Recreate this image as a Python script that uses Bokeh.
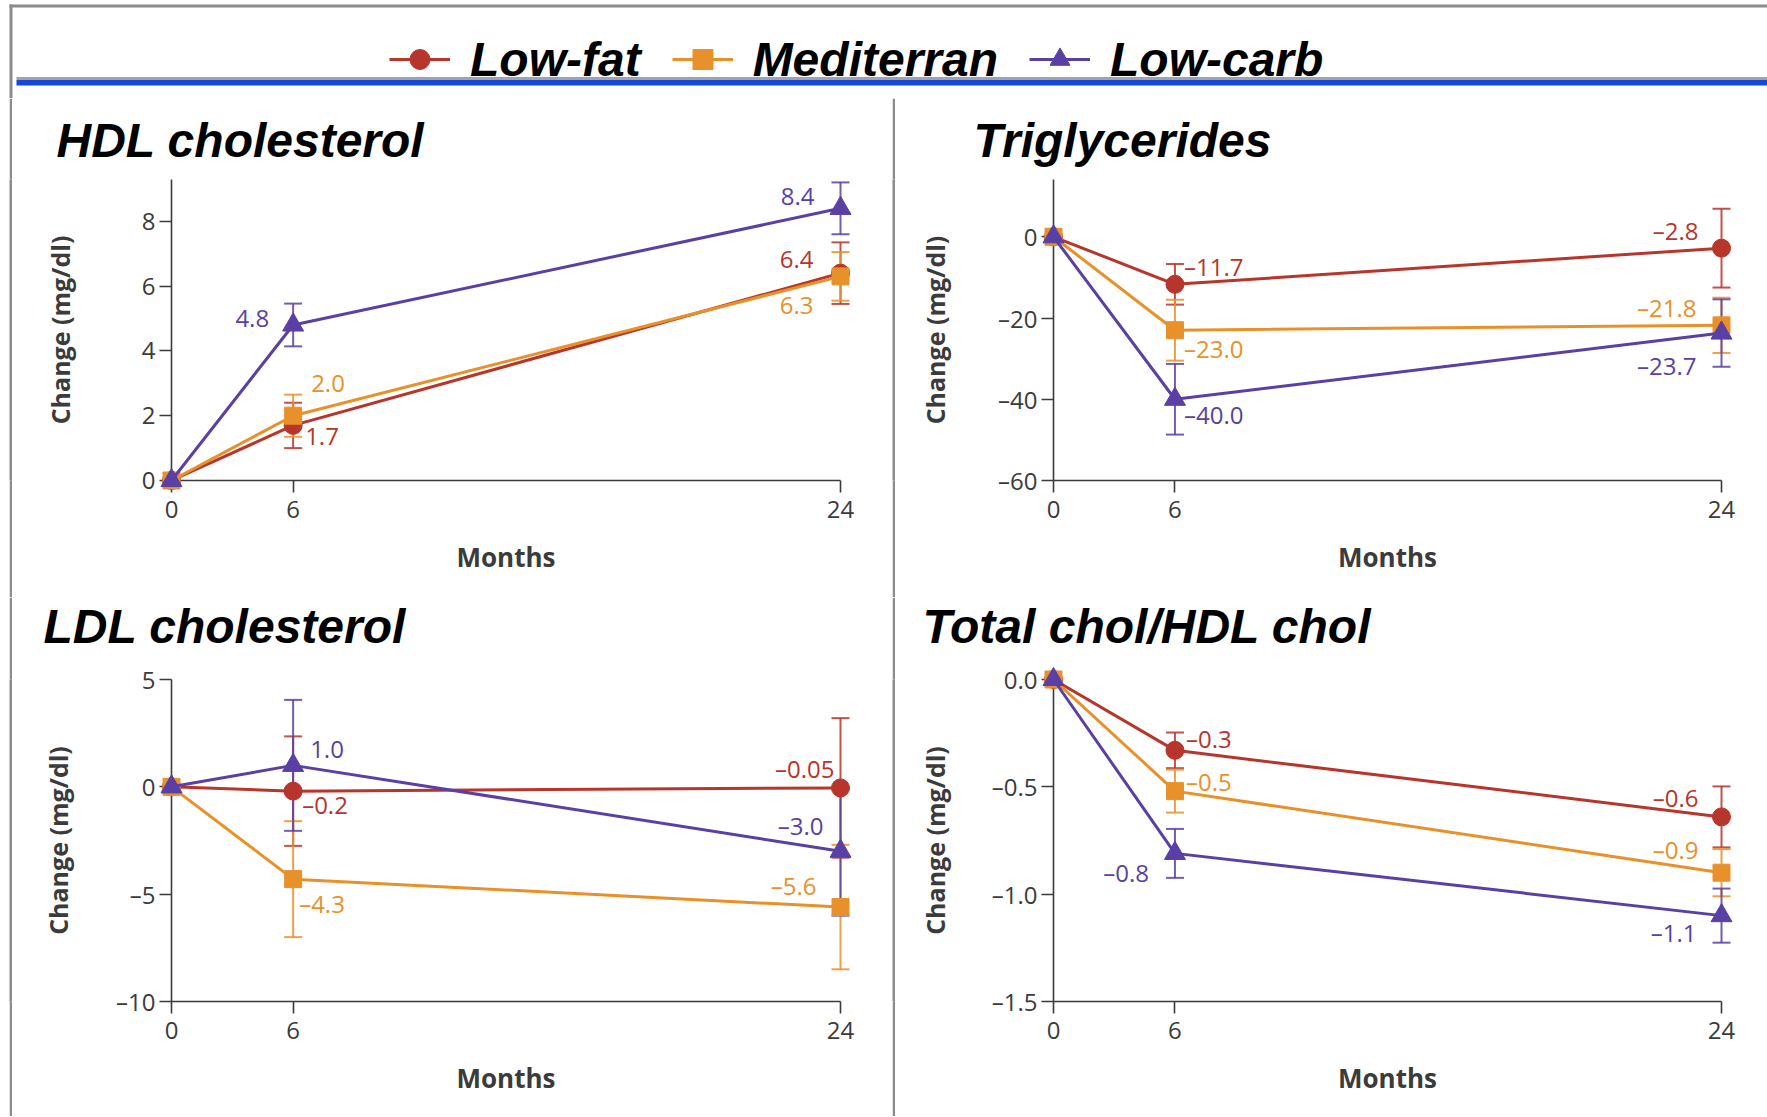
import numpy as np
from bokeh.plotting import figure
from bokeh.models import (Range1d, FixedTicker, ColumnDataSource, LabelSet, Legend,
                          LegendItem, Title)
from bokeh.layouts import row, column
from bokeh.core.properties import value
from bokeh.embed import file_html
from bokeh.resources import INLINE

# ---------------------------------------------------------------- data
MONTHS = [0, 6, 24]
MONTH_LABELS = ["0", "6", "24"]
DIETS = ["Low-fat", "Mediterran", "Low-carb"]

# HDL cholesterol (change, mg/dl)
HDL_LF = [0, 1.7, 6.4]
HDL_MED = [0, 2.0, 6.3]
HDL_LC = [0, 4.8, 8.4]
HDL_LF_SE = [0, 0.70, 0.95]
HDL_MED_SE = [0, 0.65, 0.75]
HDL_LC_SE = [0, 0.66, 0.80]
HDL_LF_TXT = ["", "1.7", "6.4"]
HDL_MED_TXT = ["", "2.0", "6.3"]
HDL_LC_TXT = ["", "4.8", "8.4"]
HDL_TICKS = [0, 2, 4, 6, 8]
HDL_TICK_LABELS = ["0", "2", "4", "6", "8"]

# Triglycerides
TG_LF = [0, -11.7, -2.8]
TG_MED = [0, -23.0, -21.8]
TG_LC = [0, -40.0, -23.7]
TG_LF_SE = [0, 5.0, 9.7]
TG_MED_SE = [0, 7.5, 6.8]
TG_LC_SE = [0, 8.7, 8.3]
TG_LF_TXT = ["", "\u201311.7", "\u20132.8"]
TG_MED_TXT = ["", "\u201323.0", "\u201321.8"]
TG_LC_TXT = ["", "\u201340.0", "\u201323.7"]
TG_TICKS = [0, -20, -40, -60]
TG_TICK_LABELS = ["0", "\u201320", "\u201340", "\u201360"]

# LDL cholesterol
LDL_LF = [0, -0.2, -0.05]
LDL_MED = [0, -4.3, -5.6]
LDL_LC = [0, 1.0, -3.0]
LDL_LF_SE = [0, 2.55, 3.25]
LDL_MED_SE = [0, 2.7, 2.9]
LDL_LC_SE = [0, 3.05, 3.0]
LDL_LF_TXT = ["", "\u20130.2", "\u20130.05"]
LDL_MED_TXT = ["", "\u20134.3", "\u20135.6"]
LDL_LC_TXT = ["", "1.0", "\u20133.0"]
LDL_TICKS = [5, 0, -5, -10]
LDL_TICK_LABELS = ["5", "0", "\u20135", "\u201310"]

# Total cholesterol / HDL cholesterol
TC_LF = [0, -0.33, -0.64]
TC_MED = [0, -0.52, -0.90]
TC_LC = [0, -0.81, -1.10]
TC_LF_SE = [0, 0.083, 0.142]
TC_MED_SE = [0, 0.10, 0.11]
TC_LC_SE = [0, 0.114, 0.126]
TC_LF_TXT = ["", "\u20130.3", "\u20130.6"]
TC_MED_TXT = ["", "\u20130.5", "\u20130.9"]
TC_LC_TXT = ["", "\u20130.8", "\u20131.1"]
TC_TICKS = [0.0, -0.5, -1.0, -1.5]
TC_TICK_LABELS = ["0.0", "\u20130.5", "\u20131.0", "\u20131.5"]

# ---------------------------------------------------------------- styles / layout
COLORS = {"Low-fat": "#b7352b", "Mediterran": "#e8912a", "Low-carb": "#5a3fa5"}
MARKERS = {"Low-fat": ("circle", 18), "Mediterran": ("square", 17), "Low-carb": ("triangle", 21)}
GRAY = "#8c8c8c"
INK = "#3b3b3b"
TICK_FONT = "Open Sans"
NUM_SIZE = "24px"
TITLE_FONT = dict(text_font="Liberation Sans", text_font_size="48px",
                  text_font_style="bold italic", text_color="black")

# value-label offsets (px) for months 6 and 24: (dx, dy-up, align)
HDL_OFF = {"Low-fat": [(12, -11, "left"), (-27, 14, "right")],
           "Mediterran": [(18, 32, "left"), (-27, -29, "right")],
           "Low-carb": [(-24, 6, "right"), (-26, 12, "right")]}
TG_OFF = {"Low-fat": [(9, 18, "left"), (-23, 18, "right")],
          "Mediterran": [(9, -18, "left"), (-25, 18, "right")],
          "Low-carb": [(9, -15, "left"), (-25, -32, "right")]}
LDL_OFF = {"Low-fat": [(9, -13, "left"), (-6, 19, "right")],
           "Mediterran": [(6, -24, "left"), (-24, 22, "right")],
           "Low-carb": [(17, 16, "left"), (-17, 26, "right")]}
TC_OFF = {"Low-fat": [(11, 12, "left"), (-23, 19, "right")],
          "Mediterran": [(11, 10, "left"), (-23, 23, "right")],
          "Low-carb": [(-26, -19, "right"), (-25, -17, "right")]}


def xpos(m):
    # the source figure's month axis is not linear: 6->24 is stretched by 1.5
    m = np.asarray(m, dtype=float)
    return np.where(m <= 6, m, 6 + (m - 6) * 1.5)


XS = xpos(MONTHS)
X_END = float(XS[-1])


def build_panel(width, height, borders, yr, yticks, yticklabels, series, offsets,
                ylab_standoff, title, title_offset, title_standoff, title_gap=0):
    left, right, top, bottom = borders
    p = figure(width=width, height=height, x_range=Range1d(0, X_END),
               y_range=Range1d(*yr), toolbar_location=None, output_backend="svg",
               min_border_left=left, min_border_right=right,
               min_border_top=top, min_border_bottom=bottom, title=None,
               outline_line_color=None, background_fill_color="white",
               border_fill_color="white")
    if title_gap:
        # tiny white spacer between the frame and the panel title
        p.add_layout(Title(text=".", text_font_size="1px", text_color="white",
                           standoff=title_gap), "above")
    p.add_layout(Title(text=title, align="left", offset=title_offset,
                       standoff=title_standoff, **TITLE_FONT), "above")
    p.xgrid.visible = False
    p.ygrid.visible = False

    xa = p.xaxis[0]
    xa.ticker = FixedTicker(ticks=[float(v) for v in XS])
    xa.major_label_overrides = {float(k): v for k, v in zip(XS, MONTH_LABELS)}
    xa.axis_label = "Months"
    xa.axis_label_standoff = 18
    xa.major_label_standoff = 8
    ya = p.yaxis[0]
    ya.ticker = FixedTicker(ticks=[float(v) for v in yticks])
    ya.major_label_overrides = {float(k): v for k, v in zip(yticks, yticklabels)}
    ya.axis_label = "Change (mg/dl)"
    ya.axis_label_standoff = ylab_standoff
    ya.major_label_standoff = 4
    for ax in (xa, ya):
        ax.axis_line_color = INK
        ax.axis_line_width = 1.6
        ax.major_tick_line_color = INK
        ax.major_tick_line_width = 1.6
        ax.major_tick_in = 0
        ax.major_tick_out = 12
        ax.minor_tick_line_color = None
        ax.major_label_text_font = TICK_FONT
        ax.major_label_text_font_size = NUM_SIZE
        ax.major_label_text_color = INK
        ax.axis_label_text_font = "Open Sans"
        ax.axis_label_text_font_style = "bold"
        ax.axis_label_text_color = INK
    xa.axis_label_text_font_size = "26px"
    ya.axis_label_text_font_size = "25px"

    # error bars first (drawn unclipped so the end points keep their full caps)
    for name, vals, se, txt in series:
        c = COLORS[name]
        vals = np.asarray(vals, dtype=float)
        se = np.asarray(se, dtype=float)
        wsrc = ColumnDataSource(dict(x=XS[1:], lo=(vals - se)[1:], hi=(vals + se)[1:]))
        p.segment(x0="x", y0="lo", x1="x", y1="hi", source=wsrc, line_color=c,
                  line_width=2, line_alpha=0.85, level="overlay")
        for end in ("lo", "hi"):
            p.scatter(x="x", y=end, source=wsrc, marker="dash", size=18, line_color=c,
                      line_width=2, line_alpha=0.85, level="overlay")

    lab_rows = {"left": dict(x=[], y=[], text=[], dx=[], dy=[], color=[]),
                "right": dict(x=[], y=[], text=[], dx=[], dy=[], color=[])}
    for name, vals, se, txt in series:
        c = COLORS[name]
        mk, sz = MARKERS[name]
        p.line(XS, vals, line_color=c, line_width=3, level="overlay")
        p.scatter(XS, vals, marker=mk, size=sz, fill_color=c, line_color=c, level="overlay")
        for i in (1, 2):
            dx, dy, al = offsets[name][i - 1]
            r = lab_rows[al]
            r["x"].append(float(XS[i])); r["y"].append(vals[i]); r["text"].append(txt[i])
            r["dx"].append(dx); r["dy"].append(dy); r["color"].append(c)
    for al, r in lab_rows.items():
        if not r["x"]:
            continue
        p.add_layout(LabelSet(source=ColumnDataSource(r), x="x", y="y", text="text",
                              x_offset="dx", y_offset="dy", text_align=al,
                              text_baseline="middle", text_color="color",
                              text_font=value(TICK_FONT), text_font_size=NUM_SIZE))
    return p


def blank(w, h, fill="white"):
    f = figure(width=w, height=h, x_range=Range1d(0, w), y_range=Range1d(h, 0),
               toolbar_location=None, output_backend="svg", x_axis_location=None,
               y_axis_location=None, min_border=0, outline_line_color=None, title=None,
               background_fill_color=fill, border_fill_color=fill)
    f.grid.visible = False
    return f


# page layout (px): header 0..98, top panels 98..597, bottom panels 597..1116
p_hdl = build_panel(880, 499, (159, 52, 80, 117), (0, 9.29), HDL_TICKS, HDL_TICK_LABELS,
                    [("Low-fat", HDL_LF, HDL_LF_SE, HDL_LF_TXT),
                     ("Mediterran", HDL_MED, HDL_MED_SE, HDL_MED_TXT),
                     ("Low-carb", HDL_LC, HDL_LC_SE, HDL_LC_TXT)],
                    HDL_OFF, 62, "HDL cholesterol", -115, 26)
p_tg = build_panel(872, 499, (158, 46, 80, 117), (-60, 14.1), TG_TICKS, TG_TICK_LABELS,
                   [("Low-fat", TG_LF, TG_LF_SE, TG_LF_TXT),
                    ("Mediterran", TG_MED, TG_MED_SE, TG_MED_TXT),
                    ("Low-carb", TG_LC, TG_LC_SE, TG_LC_TXT)],
                   TG_OFF, 43, "Triglycerides", -80, 26)
p_ldl = build_panel(880, 519, (159, 52, 79, 115), (-10, 5), LDL_TICKS, LDL_TICK_LABELS,
                    [("Low-fat", LDL_LF, LDL_LF_SE, LDL_LF_TXT),
                     ("Mediterran", LDL_MED, LDL_MED_SE, LDL_MED_TXT),
                     ("Low-carb", LDL_LC, LDL_LC_SE, LDL_LC_TXT)],
                    LDL_OFF, 38, "LDL cholesterol", -128, 0, title_gap=24)
p_tc = build_panel(872, 519, (158, 46, 79, 115), (-1.5, 0), TC_TICKS, TC_TICK_LABELS,
                   [("Low-fat", TC_LF, TC_LF_SE, TC_LF_TXT),
                    ("Mediterran", TC_MED, TC_MED_SE, TC_MED_TXT),
                    ("Low-carb", TC_LC, TC_LC_SE, TC_LC_TXT)],
                   TC_OFF, 37, "Total chol/HDL chol", -131, 0, title_gap=24)

# ---------------------------------------------------------------- header with legend
hdr = blank(1767, 98)
hdr.quad(left=[9], right=[1767], top=[4], bottom=[7], fill_color=GRAY, line_color=None)
hdr.quad(left=[9], right=[12], top=[4], bottom=[98], fill_color=GRAY, line_color=None)
hdr.quad(left=[16], right=[1767], top=[76.5], bottom=[78.5], fill_color="#a3a3a3", line_color=None)
hdr.quad(left=[16], right=[1767], top=[79], bottom=[85], fill_color="#1547d9", line_color=None)

items = []
for name in DIETS:
    c = COLORS[name]
    mk, sz = MARKERS[name]
    dummy = ColumnDataSource(dict(x=[np.nan], y=[np.nan]))
    rl = hdr.line(x="x", y="y", source=dummy, line_color=c, line_width=3)
    rs = hdr.scatter(x="x", y="y", source=dummy, marker=mk, size=sz, fill_color=c, line_color=c)
    items.append(LegendItem(label=name, renderers=[rl, rs]))
legend = Legend(items=items, orientation="horizontal", location=(389, 3),
                glyph_width=61, glyph_height=50, label_height=72, label_standoff=20,
                spacing=31, padding=0, margin=0, border_line_color=None,
                background_fill_alpha=0,
                label_text_font="Liberation Sans", label_text_font_size="48px",
                label_text_font_style="bold italic", label_text_color="black")
hdr.add_layout(legend)


def panel_row(left_plot, right_plot, h):
    return row(blank(9, h), blank(3, h, GRAY), left_plot, blank(3, h, GRAY), right_plot)


layout = column(hdr, panel_row(p_hdl, p_tg, 499), panel_row(p_ldl, p_tc, 519))

open("out.html", "w").write(file_html(layout, INLINE))
